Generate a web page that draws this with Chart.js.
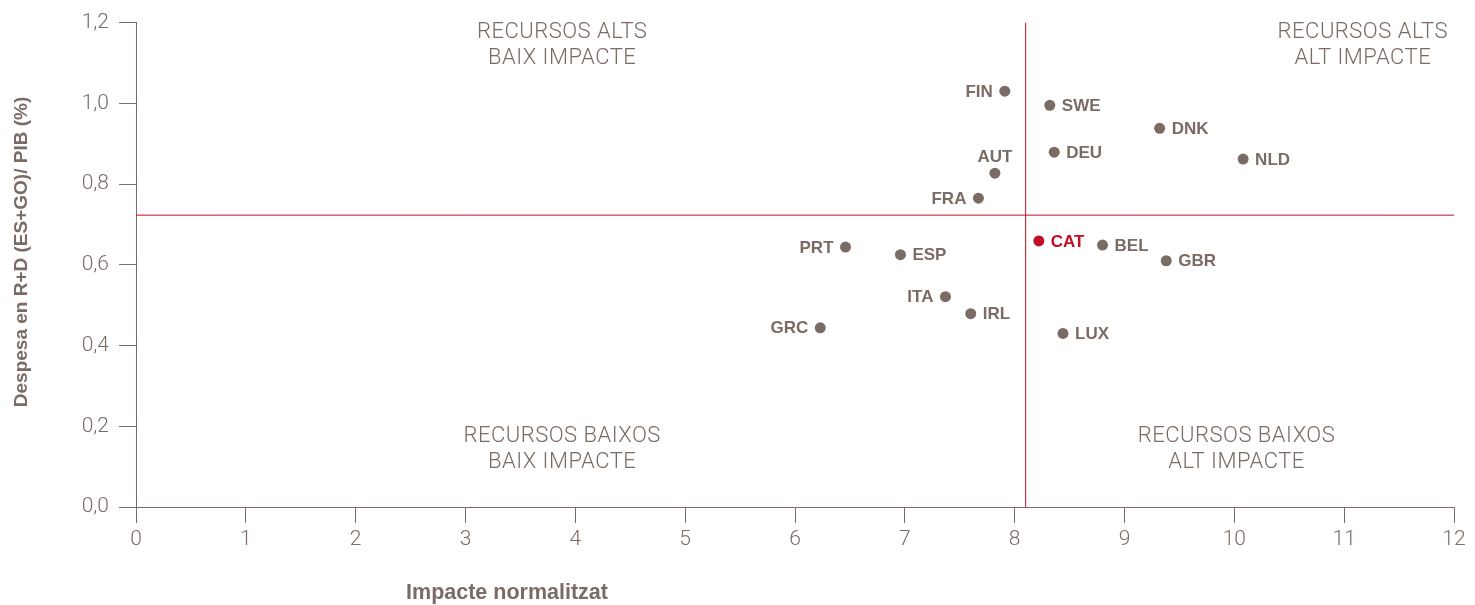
<!DOCTYPE html>
<html>
<head>
<meta charset="utf-8">
<script src="https://cdn.jsdelivr.net/npm/chart.js@4"></script>
<style>
html,body{margin:0;padding:0;background:#fff;}
#wrap{width:1475px;height:605px;position:relative;}
</style>
</head>
<body>
<div id="wrap"><canvas id="c" width="1475" height="605"></canvas></div>
<script>
// ---- data ----
const countries = ['FIN','SWE','DNK','NLD','DEU','AUT','FRA','CAT','BEL','GBR','PRT','ESP','ITA','IRL','LUX','GRC'];
const impact    = [7.91, 8.32, 9.32, 10.08, 8.36, 7.82, 7.67, 8.22, 8.80, 9.38, 6.46, 6.96, 7.37, 7.60, 8.44, 6.23];
const spending  = [1.030, 0.995, 0.938, 0.862, 0.879, 0.827, 0.765, 0.659, 0.649, 0.610, 0.644, 0.625, 0.521, 0.479, 0.430, 0.444];
const xTicks = [0,1,2,3,4,5,6,7,8,9,10,11,12];
const yTicks = [0,0.2,0.4,0.6,0.8,1.0,1.2];
const impactAverage = 8.10;
const spendingAverage = 0.723;
const quadrantLabels = [
  ['RECURSOS ALTS','BAIX IMPACTE'],
  ['RECURSOS ALTS','ALT IMPACTE'],
  ['RECURSOS BAIXOS','BAIX IMPACTE'],
  ['RECURSOS BAIXOS','ALT IMPACTE']
];
const xTitle = 'Impacte normalitzat';
const yTitle = 'Despesa en R+D (ES+GO)/ PIB (%)';

// ---- styling ----
const GREY = '#7b6b65';
const RED = '#c30d22';
const highlight = 'CAT';
const labelSide = {FIN:'left', AUT:'top', FRA:'left', PRT:'left', ITA:'left', GRC:'left'};

const points = countries.map((c,i)=>({x:impact[i], y:spending[i], label:c}));
const colors = countries.map(c => c===highlight ? RED : GREY);

const labelPlugin = {
  id:'labels',
  afterDatasetsDraw(chart){
    const ctx = chart.ctx;
    const meta = chart.getDatasetMeta(2);
    ctx.save();
    ctx.font = 'bold 17px "Liberation Sans", Arial, sans-serif';
    meta.data.forEach((el,i)=>{
      const c = countries[i];
      const side = labelSide[c] || 'right';
      ctx.fillStyle = c===highlight ? RED : GREY;
      ctx.textBaseline = 'middle';
      if (side==='right'){ ctx.textAlign='left'; ctx.fillText(c, el.x+12, el.y+1); }
      else if (side==='left'){ ctx.textAlign='right'; ctx.fillText(c, el.x-12, el.y+1); }
      else { ctx.textAlign='center'; ctx.fillText(c, el.x, el.y-16); }
    });
    ctx.restore();
  },
  afterDraw(chart){
    const ctx = chart.ctx, xs = chart.scales.x, ys = chart.scales.y, a = chart.chartArea;
    ctx.save();
    ctx.fillStyle = GREY;
    ctx.font = '300 22px Roboto, "Liberation Sans", sans-serif';
    if ('letterSpacing' in ctx) ctx.letterSpacing = '0.5px';
    ctx.textBaseline = 'middle';
    const lh = 26;
    const put = (lines, x, y, align) => {
      ctx.textAlign = align;
      lines.forEach((l,k)=>ctx.fillText(l, x, y + k*lh));
    };
    put(quadrantLabels[0], xs.getPixelForValue(3.88), a.top+10, 'center');
    put(quadrantLabels[1], xs.getPixelForValue(11.17), a.top+10, 'center');
    put(quadrantLabels[2], xs.getPixelForValue(3.88), ys.getPixelForValue(0.178)+1, 'center');
    put(quadrantLabels[3], xs.getPixelForValue(10.02), ys.getPixelForValue(0.178)+1, 'center');
    if ('letterSpacing' in ctx) ctx.letterSpacing = '0px';
    // axis titles
    ctx.font = 'bold 21.5px "Liberation Sans", Arial, sans-serif';
    ctx.textAlign = 'center';
    ctx.fillText(xTitle, 507, 593);
    ctx.font = 'bold 19px "Liberation Sans", Arial, sans-serif';
    ctx.translate(22, 252);
    ctx.rotate(-Math.PI/2);
    ctx.fillText(yTitle, 0, 0);
    ctx.restore();
  }
};

new Chart(document.getElementById('c'), {
  type:'scatter',
  data:{
    datasets:[
      {type:'line', data:[{x:0,y:spendingAverage},{x:12,y:spendingAverage}], borderColor:RED, borderWidth:1, pointRadius:0, fill:false},
      {type:'line', data:[{x:impactAverage,y:0},{x:impactAverage,y:1.2}], borderColor:RED, borderWidth:1, pointRadius:0, fill:false},
      {data:points, pointRadius:5.5, pointHoverRadius:5.5, pointBackgroundColor:colors, pointBorderWidth:0, borderWidth:0}
    ]
  },
  options:{
    responsive:false,
    animation:false,
    events:[],
    layout:{padding:{left:0, right:21, top:20, bottom:0}},
    plugins:{legend:{display:false}, tooltip:{enabled:false}},
    scales:{
      x:{
        type:'linear', min:0, max:12,
        afterBuildTicks(s){ s.ticks = xTicks.map(v=>({value:v})); },
        afterFit(s){ s.height = 98; },
        grid:{drawOnChartArea:false, drawTicks:true, tickLength:16, color:GREY, tickColor:GREY, lineWidth:1},
        border:{display:true, color:GREY, width:1},
        ticks:{color:GREY, font:{family:'Roboto, "Liberation Sans", sans-serif', size:21, weight:'300'}, padding:4, maxRotation:0, callback:v=>String(v)}
      },
      y:{
        type:'linear', min:0, max:1.2,
        afterBuildTicks(s){ s.ticks = yTicks.map(v=>({value:v})); },
        afterFit(s){ s.width = 136; },
        grid:{drawOnChartArea:false, drawTicks:true, tickLength:17, color:GREY, tickColor:GREY, lineWidth:1},
        border:{display:true, color:GREY, width:1},
        ticks:{color:GREY, font:{family:'Roboto, "Liberation Sans", sans-serif', size:21, weight:'300'}, padding:10, callback:v=>v.toFixed(1).replace('.',',')}
      }
    }
  },
  plugins:[labelPlugin]
});
</script>
</body>
</html>
